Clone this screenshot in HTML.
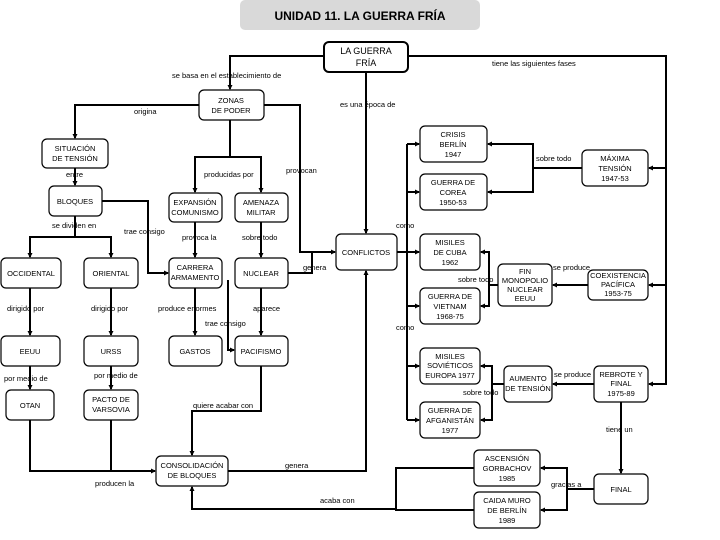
<!DOCTYPE html>
<html><head><meta charset="utf-8"><style>
html,body{margin:0;padding:0;background:#fff;}
svg{display:block;font-family:"Liberation Sans",sans-serif;}
text{font-size:7.5px;fill:#000;}
.b{fill:#fff;stroke:#000;stroke-width:1.2;}
.l{fill:none;stroke:#000;stroke-width:2;}
</style></head><body>
<svg width="720" height="540" viewBox="0 0 720 540" xmlns="http://www.w3.org/2000/svg">
<defs><marker id="a" markerWidth="5" markerHeight="5" refX="4" refY="2.5" orient="auto" markerUnits="userSpaceOnUse"><path d="M0,0L5,2.5L0,5z" fill="#000"/></marker></defs>
<rect x="240" y="0" width="240" height="30" rx="5" fill="#d9d9d9"/>
<text x="360" y="20" text-anchor="middle" style="font-size:12px;font-weight:bold">UNIDAD 11. LA GUERRA FRÍA</text>

<g class="l">
<path d="M324,56H230V89" marker-end="url(#a)"/>
<path d="M408,56H666V384H649" marker-end="url(#a)"/>
<path d="M666,168H649" marker-end="url(#a)"/>
<path d="M666,285H649" marker-end="url(#a)"/>
<path d="M366,72V233" marker-end="url(#a)"/>
<path d="M199,105H75V138" marker-end="url(#a)"/>
<path d="M230,120V157H195V192" marker-end="url(#a)"/>
<path d="M230,157H261V192" marker-end="url(#a)"/>
<path d="M264,105H300V252H335" marker-end="url(#a)"/>
<path d="M288,273H312V252"/>
<path d="M75,168V185" marker-end="url(#a)"/>
<path d="M75,216V237H30V257" marker-end="url(#a)"/>
<path d="M75,237H111V257" marker-end="url(#a)"/>
<path d="M102,201H148V273H168" marker-end="url(#a)"/>
<path d="M195,222V257" marker-end="url(#a)"/>
<path d="M261,222V257" marker-end="url(#a)"/>
<path d="M228,280V350H234" marker-end="url(#a)"/>
<path d="M195,288V335" marker-end="url(#a)"/>
<path d="M261,288V335" marker-end="url(#a)"/>
<path d="M30,288V335" marker-end="url(#a)"/>
<path d="M111,288V335" marker-end="url(#a)"/>
<path d="M30,366V389" marker-end="url(#a)"/>
<path d="M111,366V389" marker-end="url(#a)"/>
<path d="M30,420V471H155" marker-end="url(#a)"/>
<path d="M111,420V471"/>
<path d="M261,366V411H192V455" marker-end="url(#a)"/>
<path d="M228,471H366V271" marker-end="url(#a)"/>
<path d="M474,510H396V509H192V487" marker-end="url(#a)"/>
<path d="M474,468H396V510"/>
<path d="M397,252H419" marker-end="url(#a)"/>
<path d="M407,144V420"/>
<path d="M407,144H419" marker-end="url(#a)"/>
<path d="M407,192H419" marker-end="url(#a)"/>
<path d="M407,306H419" marker-end="url(#a)"/>
<path d="M407,366H419" marker-end="url(#a)"/>
<path d="M407,420H419" marker-end="url(#a)"/>
<path d="M582,168H533V144H488" marker-end="url(#a)"/>
<path d="M533,168V192H488" marker-end="url(#a)"/>
<path d="M588,285H553" marker-end="url(#a)"/>
<path d="M498,285H489V252H481" marker-end="url(#a)"/>
<path d="M489,285V306H481" marker-end="url(#a)"/>
<path d="M594,384H553" marker-end="url(#a)"/>
<path d="M504,384H492V366H481" marker-end="url(#a)"/>
<path d="M492,384V420H481" marker-end="url(#a)"/>
<path d="M621,402V473" marker-end="url(#a)"/>
<path d="M594,489H567V468H541" marker-end="url(#a)"/>
<path d="M567,489V510H541" marker-end="url(#a)"/>
</g>

<g>
<rect class="b" x="324" y="42" width="84" height="30" rx="5" style="stroke-width:2"/>
<rect class="b" x="199" y="90" width="65" height="30" rx="5"/>
<rect class="b" x="42" y="139" width="66" height="29" rx="5"/>
<rect class="b" x="49" y="186" width="53" height="30" rx="5"/>
<rect class="b" x="169" y="193" width="53" height="29" rx="5"/>
<rect class="b" x="235" y="193" width="53" height="29" rx="5"/>
<rect class="b" x="1" y="258" width="60" height="30" rx="5"/>
<rect class="b" x="84" y="258" width="54" height="30" rx="5"/>
<rect class="b" x="169" y="258" width="53" height="30" rx="5"/>
<rect class="b" x="235" y="258" width="53" height="30" rx="5"/>
<rect class="b" x="336" y="234" width="61" height="36" rx="5"/>
<rect class="b" x="420" y="126" width="67" height="36" rx="5"/>
<rect class="b" x="420" y="174" width="67" height="36" rx="5"/>
<rect class="b" x="582" y="150" width="66" height="36" rx="5"/>
<rect class="b" x="420" y="234" width="60" height="36" rx="5"/>
<rect class="b" x="420" y="288" width="60" height="36" rx="5"/>
<rect class="b" x="498" y="264" width="54" height="42" rx="5"/>
<rect class="b" x="588" y="270" width="60" height="30" rx="5"/>
<rect class="b" x="1" y="336" width="59" height="30" rx="5"/>
<rect class="b" x="84" y="336" width="54" height="30" rx="5"/>
<rect class="b" x="169" y="336" width="53" height="30" rx="5"/>
<rect class="b" x="235" y="336" width="53" height="30" rx="5"/>
<rect class="b" x="6" y="390" width="48" height="30" rx="5"/>
<rect class="b" x="84" y="390" width="54" height="30" rx="5"/>
<rect class="b" x="156" y="456" width="72" height="30" rx="5"/>
<rect class="b" x="420" y="348" width="60" height="36" rx="5"/>
<rect class="b" x="420" y="402" width="60" height="36" rx="5"/>
<rect class="b" x="504" y="366" width="48" height="36" rx="5"/>
<rect class="b" x="594" y="366" width="54" height="36" rx="5"/>
<rect class="b" x="594" y="474" width="54" height="30" rx="5"/>
<rect class="b" x="474" y="450" width="66" height="36" rx="5"/>
<rect class="b" x="474" y="492" width="66" height="36" rx="5"/>
</g>

<g text-anchor="middle">
<text x="366" y="54" style="font-size:9px">LA GUERRA</text><text x="366" y="66" style="font-size:9px">FRÍA</text>
<text x="231" y="103">ZONAS</text><text x="231" y="113">DE PODER</text>
<text x="75" y="151">SITUACIÓN</text><text x="75" y="161">DE TENSIÓN</text>
<text x="75" y="204">BLOQUES</text>
<text x="195" y="205">EXPANSIÓN</text><text x="195" y="215">COMUNISMO</text>
<text x="261" y="205">AMENAZA</text><text x="261" y="215">MILITAR</text>
<text x="31" y="276">OCCIDENTAL</text>
<text x="111" y="276">ORIENTAL</text>
<text x="195" y="270">CARRERA</text><text x="195" y="280">ARMAMENTO</text>
<text x="261" y="276">NUCLEAR</text>
<text x="366" y="255">CONFLICTOS</text>
<text x="453" y="137">CRISIS</text><text x="453" y="147">BERLÍN</text><text x="453" y="157">1947</text>
<text x="453" y="185">GUERRA DE</text><text x="453" y="195">COREA</text><text x="453" y="205">1950-53</text>
<text x="615" y="161">MÁXIMA</text><text x="615" y="171">TENSIÓN</text><text x="615" y="181">1947-53</text>
<text x="450" y="245">MISILES</text><text x="450" y="255">DE CUBA</text><text x="450" y="265">1962</text>
<text x="450" y="299">GUERRA DE</text><text x="450" y="309">VIETNAM</text><text x="450" y="319">1968-75</text>
<text x="525" y="274">FIN</text><text x="525" y="283">MONOPOLIO</text><text x="525" y="292">NUCLEAR</text><text x="525" y="301">EEUU</text>
<text x="618" y="278">COEXISTENCIA</text><text x="618" y="287">PACÍFICA</text><text x="618" y="296">1953-75</text>
<text x="30" y="354">EEUU</text>
<text x="111" y="354">URSS</text>
<text x="195" y="354">GASTOS</text>
<text x="261" y="354">PACIFISMO</text>
<text x="30" y="408">OTAN</text>
<text x="111" y="402">PACTO DE</text><text x="111" y="412">VARSOVIA</text>
<text x="192" y="468">CONSOLIDACIÓN</text><text x="192" y="478">DE BLOQUES</text>
<text x="450" y="359">MISILES</text><text x="450" y="368">SOVIÉTICOS</text><text x="450" y="378">EUROPA 1977</text>
<text x="450" y="413">GUERRA DE</text><text x="450" y="423">AFGANISTÁN</text><text x="450" y="433">1977</text>
<text x="528" y="381">AUMENTO</text><text x="528" y="391">DE TENSIÓN</text>
<text x="621" y="377">REBROTE Y</text><text x="621" y="386">FINAL</text><text x="621" y="396">1975-89</text>
<text x="621" y="492">FINAL</text>
<text x="507" y="461">ASCENSIÓN</text><text x="507" y="471">GORBACHOV</text><text x="507" y="481">1985</text>
<text x="507" y="503">CAIDA MURO</text><text x="507" y="513">DE BERLÍN</text><text x="507" y="523">1989</text>
</g>

<g>
<text x="172" y="78">se basa en el establecimiento de</text>
<text x="492" y="66">tiene las siguientes fases</text>
<text x="340" y="107">es una época de</text>
<text x="134" y="114">origina</text>
<text x="204" y="177">producidas por</text>
<text x="286" y="173">provocan</text>
<text x="66" y="177">entre</text>
<text x="52" y="228">se dividen en</text>
<text x="124" y="234">trae consigo</text>
<text x="182" y="240">provoca la</text>
<text x="242" y="240">sobre todo</text>
<text x="303" y="270">genera</text>
<text x="7" y="311">dirigido por</text>
<text x="91" y="311">dirigido por</text>
<text x="158" y="311">produce enormes</text>
<text x="253" y="311">aparece</text>
<text x="205" y="326">trae consigo</text>
<text x="4" y="381">por medio de</text>
<text x="94" y="378">por medio de</text>
<text x="193" y="408">quiere acabar con</text>
<text x="95" y="486">producen la</text>
<text x="285" y="468">genera</text>
<text x="320" y="503">acaba con</text>
<text x="396" y="228">como</text>
<text x="396" y="330">como</text>
<text x="536" y="161">sobre todo</text>
<text x="458" y="282">sobre todo</text>
<text x="553" y="270">se produce</text>
<text x="554" y="377">se produce</text>
<text x="463" y="395">sobre todo</text>
<text x="606" y="432">tiene un</text>
<text x="551" y="487">gracias a</text>
</g>
</svg>
</body></html>
